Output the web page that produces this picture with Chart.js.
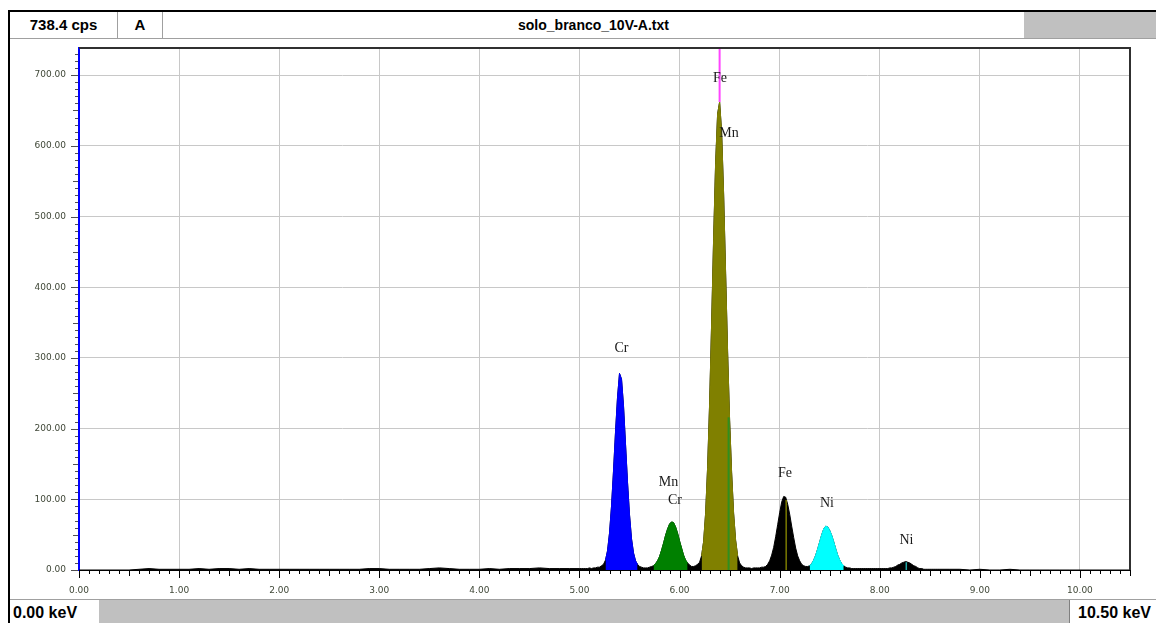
<!DOCTYPE html>
<html>
<head>
<meta charset="utf-8">
<title>solo_branco_10V-A.txt</title>
<script src="https://cdn.jsdelivr.net/npm/chart.js@4.4.1/dist/chart.umd.min.js"></script>
<style>
  html, body { margin: 0; padding: 0; background: #fff; }
  body { width: 1156px; height: 623px; position: relative; overflow: hidden;
         font-family: "Liberation Sans", Arial, sans-serif; }
  .line { position: absolute; }
  .cell { position: absolute; font-weight: bold; color: #000; white-space: nowrap; }
  #plot { position: absolute; left: 10px; top: 39px; width: 1146px; height: 560px; }
</style>
</head>
<body>
<!-- outer frame -->
<div class="line" style="left:8px;top:10px;width:1148px;height:2px;background:#000"></div>
<div class="line" style="left:8px;top:10px;width:2px;height:613px;background:#000"></div>

<!-- header row -->
<div class="cell" style="left:10px;top:12px;width:107px;height:26px;line-height:26px;text-align:center;font-size:15px;border-right:1px solid #a0a0a0">738.4 cps</div>
<div class="cell" style="left:118px;top:12px;width:44px;height:26px;line-height:26px;text-align:center;font-size:15px;border-right:1px solid #a0a0a0">A</div>
<div class="cell" style="left:163px;top:12px;width:861px;height:26px;line-height:26px;text-align:center;font-size:14px">solo_branco_10V-A.txt</div>
<div class="line" style="left:1024px;top:12px;width:132px;height:26px;background:#c0c0c0"></div>
<div class="line" style="left:10px;top:38px;width:1146px;height:1px;background:#a0a0a0"></div>

<div id="plot"><canvas id="spectrumChart"></canvas></div>

<!-- footer row -->
<div class="line" style="left:10px;top:599px;width:1146px;height:1px;background:#a0a0a0"></div>
<div class="cell" style="left:13px;top:600px;height:23px;line-height:26px;font-size:16px">0.00 keV</div>
<div class="line" style="left:99px;top:600px;width:970px;height:23px;background:#c0c0c0"></div>
<div class="cell" style="left:1069px;top:600px;width:87px;height:23px;line-height:26px;font-size:16px;border-left:1px solid #808080;padding-left:8px">10.50 keV</div>

<script>
// ---- spectrum data (cps per channel) ----
// 0.0 .. 5.0 keV, 0.1 keV channels
const lowStartKeV = 0.0, lowStepKeV = 0.1;
const lowCps = [0,0,0,0,0,0,1,2,1,1,
                1,1,2,1,2,2,1,2,1,1,
                1,1,1,1,1,1,1,1,1,2,
                2,1,1,1,1,2,3,2,1,1,
                1,2,1,2,2,2,3,2,2,2,
                2];
// 5.02 .. 8.60 keV, 0.02 keV channels (peak region)
const peakStartKeV = 5.02, peakStepKeV = 0.02;
const peakCps = [2,2,2,2,3,2,3,3,4,4,
                 6,8,14,27,52,90,140,195,244,278,
                 270,232,178,124,78,44,24,13,8,5,
                 4,3,3,3,4,5,6,9,13,19,
                 28,38,49,58,65,68,67,61,52,41,
                 31,21,14,10,7,5,5,6,8,11,
                 20,40,80,145,235,348,468,575,645,662,
                 620,532,420,308,212,138,80,42,20,10,
                 6,4,3,3,3,2,3,3,3,3,
                 4,4,5,8,13,21,32,47,64,81,
                 96,104,103,93,79,62,46,31,20,13,
                 8,6,5,5,6,9,14,21,30,40,
                 50,58,62,61,56,49,40,30,21,14,
                 9,6,4,3,3,2,2,2,2,2,
                 2,2,2,2,2,2,2,2,2,2,
                 2,2,2,2,3,3,4,5,7,8,
                 10,11,12,11,10,8,6,5,3,2,
                 2,1,1,1,1,1,1,1,1,1];
// 8.7 .. 10.5 keV, 0.1 keV channels
const tailStartKeV = 8.7, tailStepKeV = 0.1;
const tailCps = [1,1,0,1,0,0,1,0,0,0,0,0,0,0,0,0,0,0,0];

// regions of interest (coloured peaks)
const roiLoKeV  = [5.25, 5.73, 6.21, 7.29];
const roiHiKeV  = [5.59, 6.09, 6.59, 7.65];
const roiColors = ['#0000ff', '#008000', '#808000', '#00ffff'];

// KLM marker lines inside peaks
const markerKeV    = [6.49, 7.065, 8.265];
const markerCps    = [216, 99, 11];
const markerColors = ['#2f8f1f', '#7a7a00', '#20a8a8'];

// cursor
const cursorKeV = 6.40;
const cursorCps = 662;

// element labels
const labelText = ['Fe', 'Mn', 'Cr', 'Mn', 'Cr', 'Fe', 'Ni', 'Ni'];
const labelKeV  = [6.404, 6.494, 5.42, 5.889, 5.954, 7.053, 7.473, 8.267];
const labelCps  = [696, 617, 313, 124, 99, 137, 95, 42];

// axes
const xMaxKeV = 10.5;
const yMaxCps = 738.4;
const xTickKeV = [0,1,2,3,4,5,6,7,8,9,10];
const yTickCps = [0,100,200,300,400,500,600,700];
const xMinorStep = 0.1;
const yMinorStep = 10;

// ---- build points ----
const spectrum = [];
function addSegment(start, step, values) {
  values.forEach((v, i) => spectrum.push({ x: +(start + i * step).toFixed(3), y: v }));
}
addSegment(lowStartKeV, lowStepKeV, lowCps);
addSegment(peakStartKeV, peakStepKeV, peakCps);
addSegment(tailStartKeV, tailStepKeV, tailCps);

const datasets = [{
  label: 'spectrum',
  data: spectrum,
  borderColor: '#000',
  backgroundColor: '#000',
  borderWidth: 1,
  fill: 'origin',
  order: 10
}];

roiLoKeV.forEach((lo, i) => {
  datasets.push({
    label: 'roi' + i,
    data: spectrum.filter(p => p.x >= lo && p.x <= roiHiKeV[i]),
    borderColor: roiColors[i],
    backgroundColor: roiColors[i],
    borderWidth: 1,
    fill: 'origin',
    order: 5
  });
});

markerKeV.forEach((e, i) => {
  datasets.push({
    label: 'marker' + i,
    data: [{ x: e, y: 0 }, { x: e, y: markerCps[i] }],
    borderColor: markerColors[i],
    borderWidth: i === 0 ? 2 : 1.5,
    fill: false,
    order: 1
  });
});

datasets.push({
  label: 'cursor',
  data: [{ x: cursorKeV, y: cursorCps }, { x: cursorKeV, y: yMaxCps }],
  borderColor: '#ff44ff',
  borderWidth: 2,
  fill: false,
  order: 1
});

// minor ticks, plot frame and element labels
const spectrumDecor = {
  id: 'spectrumDecor',
  afterDraw(chart) {
    const { ctx, chartArea: a, scales: { x, y } } = chart;
    ctx.save();

    ctx.strokeStyle = '#303030';
    ctx.lineWidth = 2;
    ctx.beginPath();
    ctx.moveTo(a.left, a.top);
    ctx.lineTo(a.right, a.top);
    ctx.lineTo(a.right, a.bottom);
    ctx.stroke();

    ctx.lineWidth = 1;
    ctx.strokeStyle = '#000';
    const nx = Math.round(xMaxKeV / xMinorStep);
    for (let i = 0; i <= nx; i++) {
      const px = Math.round(x.getPixelForValue(i * xMinorStep)) + 0.5;
      const len = i % 10 === 0 ? 8 : (i % 5 === 0 ? 6 : 4);
      ctx.beginPath();
      ctx.moveTo(px, a.bottom);
      ctx.lineTo(px, a.bottom + len);
      ctx.stroke();
    }

    ctx.strokeStyle = '#505050';
    const ny = Math.floor(yMaxCps / yMinorStep);
    for (let i = 0; i <= ny; i++) {
      const py = Math.round(y.getPixelForValue(i * yMinorStep)) + 0.5;
      const len = i % 10 === 0 ? 7 : (i % 5 === 0 ? 5 : 3);
      ctx.beginPath();
      ctx.moveTo(a.left - 1, py);
      ctx.lineTo(a.left - 1 - len, py);
      ctx.stroke();
    }

    ctx.fillStyle = '#1a1a1a';
    ctx.font = '14px "Liberation Serif", "Times New Roman", serif';
    ctx.textAlign = 'center';
    ctx.textBaseline = 'middle';
    labelText.forEach((t, i) => {
      ctx.fillText(t, x.getPixelForValue(labelKeV[i]), y.getPixelForValue(labelCps[i]));
    });
    ctx.restore();
  }
};

const tickFont = { family: '"DejaVu Sans", Verdana, sans-serif', size: 9 };

new Chart(document.getElementById('spectrumChart').getContext('2d'), {
  type: 'line',
  data: { datasets },
  options: {
    responsive: true,
    maintainAspectRatio: false,
    animation: false,
    devicePixelRatio: 1,
    events: [],
    layout: { padding: { top: 9, right: 26, left: 0, bottom: 0 } },
    elements: { point: { radius: 0 }, line: { tension: 0 } },
    plugins: { legend: { display: false }, tooltip: { enabled: false }, title: { display: false } },
    scales: {
      x: {
        type: 'linear',
        min: 0,
        max: xMaxKeV,
        afterBuildTicks: s => { s.ticks = xTickKeV.map(v => ({ value: v })); },
        afterFit: s => { s.height = 29; },
        ticks: { callback: v => v.toFixed(2), font: tickFont, color: '#404838', padding: 15, maxRotation: 0, autoSkip: false },
        grid: { color: '#c8c8c8', lineWidth: 1, drawTicks: false },
        border: { color: '#000', width: 1 }
      },
      y: {
        type: 'linear',
        min: 0,
        max: yMaxCps,
        afterBuildTicks: s => { s.ticks = yTickCps.map(v => ({ value: v })); },
        afterFit: s => { s.width = 69; },
        ticks: { callback: v => v.toFixed(2), font: tickFont, color: '#404838', padding: 0, autoSkip: false },
        grid: { color: '#c8c8c8', lineWidth: 1, drawTicks: true, tickLength: 13, tickColor: 'rgba(0,0,0,0)' },
        border: { color: '#0000ff', width: 2 }
      }
    }
  },
  plugins: [spectrumDecor]
});
</script>
</body>
</html>
